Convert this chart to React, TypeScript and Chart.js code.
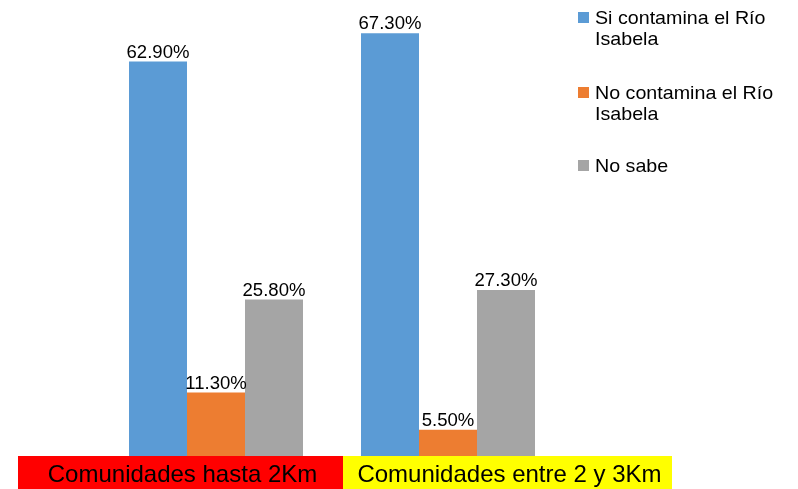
import React, { useEffect, useRef } from "react";
import { Chart, registerables } from "chart.js";

Chart.register(...registerables);

const categories = ["Comunidades hasta 2Km", "Comunidades entre 2 y 3Km"];
const categoryColors = ["#FF0000", "#FFFF00"];
const seriesNames = [["Si contamina el Río", "Isabela"], ["No contamina el Río", "Isabela"], ["No sabe"]];
const seriesColors = ["#5B9BD5", "#ED7D31", "#A5A5A5"];
const siContamina = [62.9, 67.3];
const noContamina = [11.3, 5.5];
const noSabe = [25.8, 27.3];

const FONT = "Liberation Sans, Arial, sans-serif";

function stretchedText(ctx: CanvasRenderingContext2D, text: string, x: number, y: number, sx: number) {
  ctx.save();
  ctx.translate(x, y);
  ctx.scale(sx, 1);
  ctx.fillText(text, 0, 0);
  ctx.restore();
}

export default function App() {
  const ref = useRef<HTMLCanvasElement | null>(null);
  useEffect(() => {
    document.body.style.margin = "0";
    const canvas = ref.current!;
    const overlay = {
      id: "overlay",
      afterDatasetsDraw(chart: any) {
        const ctx = chart.ctx as CanvasRenderingContext2D;
        ctx.save();
        // data labels
        ctx.font = `18px ${FONT}`;
        ctx.fillStyle = "#000";
        ctx.textAlign = "center";
        ctx.textBaseline = "alphabetic";
        chart.data.datasets.forEach((ds: any, i: number) => {
          const meta = chart.getDatasetMeta(i);
          meta.data.forEach((el: any, j: number) => {
            stretchedText(ctx, ds.data[j].toFixed(2) + "%", el.x, el.y - 4, 1.03);
          });
        });
        // category label boxes
        const bounds = [18, 343, 672];
        categories.forEach((c, i) => {
          ctx.fillStyle = categoryColors[i];
          ctx.fillRect(bounds[i], 456, bounds[i + 1] - bounds[i], 33);
          ctx.fillStyle = "#000";
          ctx.font = `24px ${FONT}`;
          ctx.textAlign = "center";
          ctx.textBaseline = "alphabetic";
          ctx.fillText(c, (bounds[i] + bounds[i + 1]) / 2 + 2, 482);
        });
        // legend
        const tops = [24, 99, 172];
        ctx.font = `19px ${FONT}`;
        ctx.textAlign = "left";
        ctx.textBaseline = "alphabetic";
        seriesNames.forEach((lines, i) => {
          ctx.fillStyle = seriesColors[i];
          ctx.fillRect(578, tops[i] - 12, 11, 11);
          ctx.fillStyle = "#000";
          lines.forEach((l, k) => stretchedText(ctx, l, 595, tops[i] + k * 21, 1.035));
        });
        ctx.restore();
      },
    };
    const chart = new Chart(canvas, {
      type: "bar",
      data: {
        labels: categories,
        datasets: [
          { label: seriesNames[0].join(" "), data: siContamina, backgroundColor: seriesColors[0] },
          { label: seriesNames[1].join(" "), data: noContamina, backgroundColor: seriesColors[1] },
          { label: seriesNames[2].join(" "), data: noSabe, backgroundColor: seriesColors[2] },
        ],
      },
      options: {
        responsive: false,
        animation: false,
        layout: { padding: { left: 100, right: 234, top: 16, bottom: 24 } },
        datasets: { bar: { categoryPercentage: 0.75, barPercentage: 1 } },
        scales: {
          x: { display: false },
          y: { display: false, min: 0, max: 70 },
        },
        plugins: { legend: { display: false }, tooltip: { enabled: false } },
      },
      plugins: [overlay],
    });
    return () => chart.destroy();
  }, []);
  return (
    <div style={{ position: "absolute", left: 0, top: 0, width: 798, height: 489, background: "#fff" }}>
      <canvas ref={ref} width={798} height={489} style={{ width: 798, height: 489, display: "block" }} />
    </div>
  );
}
